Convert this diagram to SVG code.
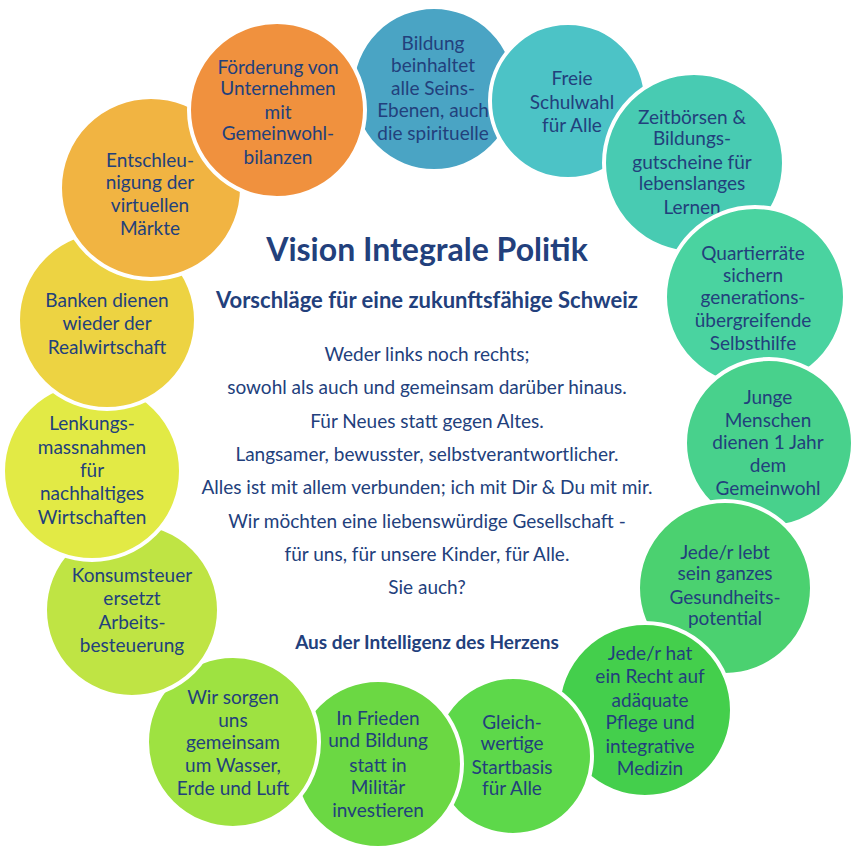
<svg xmlns="http://www.w3.org/2000/svg" width="862" height="854" viewBox="0 0 862 854">
<style>
.c{stroke:#fff;stroke-width:4}
.t{font-family:Lato,"Liberation Sans",sans-serif;font-size:19px;fill:#22407c;text-anchor:middle}
.m{font-family:Lato,"Liberation Sans",sans-serif;fill:#22407c;text-anchor:middle}
</style>
<rect width="862" height="854" fill="#fff"/>
<g id="n1"><circle class="c" cx="434" cy="89" r="82" fill="#4AA4C4"/><text class="t"><tspan x="433" y="50">Bildung</tspan><tspan x="433" y="72">beinhaltet</tspan><tspan x="433" y="95">alle Seins-</tspan><tspan x="433" y="117">Ebenen, auch</tspan><tspan x="433" y="140">die spirituelle</tspan></text></g>
<g id="n2"><circle class="c" cx="568" cy="101" r="78" fill="#4CC3C6"/><text class="t"><tspan x="572" y="85">Freie</tspan><tspan x="572" y="109">Schulwahl</tspan><tspan x="572" y="132">für Alle</tspan></text></g>
<g id="n3"><circle class="c" cx="694" cy="163" r="90" fill="#48CBB2"/><text class="t"><tspan x="692" y="124">Zeitbörsen &amp;</tspan><tspan x="692" y="145">Bildungs-</tspan><tspan x="692" y="169">gutscheine für</tspan><tspan x="692" y="190">lebenslanges</tspan><tspan x="692" y="214">Lernen</tspan></text></g>
<g id="n4"><circle class="c" cx="755" cy="297" r="90" fill="#4AD3A0"/><text class="t"><tspan x="753" y="260">Quartierräte</tspan><tspan x="753" y="282">sichern</tspan><tspan x="753" y="304">generations-</tspan><tspan x="753" y="327">übergreifende</tspan><tspan x="753" y="350">Selbsthilfe</tspan></text></g>
<g id="n5"><circle class="c" cx="769" cy="443" r="84" fill="#48D18C"/><text class="t"><tspan x="768" y="404">Junge</tspan><tspan x="768" y="427">Menschen</tspan><tspan x="768" y="449">dienen 1 Jahr</tspan><tspan x="768" y="472">dem</tspan><tspan x="768" y="495">Gemeinwohl</tspan></text></g>
<g id="n6"><circle class="c" cx="725" cy="588" r="87" fill="#4BD170"/><text class="t"><tspan x="725" y="559">Jede/r lebt</tspan><tspan x="725" y="580">sein ganzes</tspan><tspan x="725" y="604">Gesundheits-</tspan><tspan x="725" y="625">potential</tspan></text></g>
<g id="n7"><circle class="c" cx="645" cy="710" r="87" fill="#44CF4C"/><text class="t"><tspan x="650" y="660">Jede/r hat</tspan><tspan x="650" y="683">ein Recht auf</tspan><tspan x="650" y="707">adäquate</tspan><tspan x="650" y="729">Pflege und</tspan><tspan x="650" y="753">integrative</tspan><tspan x="650" y="775">Medizin</tspan></text></g>
<g id="n8"><circle class="c" cx="513" cy="756" r="79" fill="#5DD84A"/><text class="t"><tspan x="512" y="729">Gleich-</tspan><tspan x="512" y="750">wertige</tspan><tspan x="512" y="774">Startbasis</tspan><tspan x="512" y="795">für Alle</tspan></text></g>
<g id="n9"><circle class="c" cx="378" cy="764" r="84" fill="#6BD843"/><text class="t"><tspan x="378" y="725">In Frieden</tspan><tspan x="378" y="747">und Bildung</tspan><tspan x="378" y="772">statt in</tspan><tspan x="378" y="794">Militär</tspan><tspan x="378" y="817">investieren</tspan></text></g>
<g id="n10"><circle class="c" cx="233" cy="742" r="86" fill="#9EE241"/><text class="t"><tspan x="233" y="704">Wir sorgen</tspan><tspan x="233" y="727">uns</tspan><tspan x="233" y="749">gemeinsam</tspan><tspan x="233" y="772">um Wasser,</tspan><tspan x="233" y="795">Erde und Luft</tspan></text></g>
<g id="n11"><circle class="c" cx="132" cy="610" r="87" fill="#BFE444"/><text class="t"><tspan x="132" y="582">Konsumsteuer</tspan><tspan x="132" y="605">ersetzt</tspan><tspan x="132" y="629">Arbeits-</tspan><tspan x="132" y="652">besteuerung</tspan></text></g>
<g id="n12"><circle class="c" cx="92" cy="471" r="89" fill="#E2EA45"/><text class="t"><tspan x="92" y="430">Lenkungs-</tspan><tspan x="92" y="454">massnahmen</tspan><tspan x="92" y="477">für</tspan><tspan x="92" y="500">nachhaltiges</tspan><tspan x="92" y="524">Wirtschaften</tspan></text></g>
<g id="n13"><circle class="c" cx="107" cy="320" r="89" fill="#EDD342"/><text class="t"><tspan x="107" y="307">Banken dienen</tspan><tspan x="107" y="330">wieder der</tspan><tspan x="107" y="354">Realwirtschaft</tspan></text></g>
<g id="n14"><circle class="c" cx="151" cy="188" r="91" fill="#F1B442"/><text class="t"><tspan x="150" y="167">Entschleu-</tspan><tspan x="150" y="189">nigung der</tspan><tspan x="150" y="212">virtuellen</tspan><tspan x="150" y="235">Märkte</tspan></text></g>
<g id="n15"><circle class="c" cx="277" cy="110" r="88" fill="#F0913E"/><text class="t"><tspan x="278" y="74">Förderung von</tspan><tspan x="278" y="95">Unternehmen</tspan><tspan x="278" y="119">mit</tspan><tspan x="278" y="140">Gemeinwohl-</tspan><tspan x="278" y="164">bilanzen</tspan></text></g>
<g id="center">
<text class="m" x="427" y="261" font-size="32" font-weight="bold" fill="#1f4680">Vision Integrale Politik</text>
<text class="m" x="427" y="308" font-size="22" font-weight="bold">Vorschläge für eine zukunftsfähige Schweiz</text>
<text class="m" font-size="19"><tspan x="427" y="361">Weder links noch rechts;</tspan><tspan x="427" y="394">sowohl als auch und gemeinsam darüber hinaus.</tspan><tspan x="427" y="428">Für Neues  statt gegen Altes.</tspan><tspan x="427" y="461">Langsamer, bewusster, selbstverantwortlicher.</tspan><tspan x="427" y="494">Alles ist mit allem verbunden; ich mit Dir &amp; Du mit mir.</tspan><tspan x="427" y="528">Wir möchten eine liebenswürdige Gesellschaft -</tspan><tspan x="427" y="561">für uns, für unsere Kinder, für Alle.</tspan><tspan x="427" y="594">Sie auch?</tspan></text>
<text class="m" x="427" y="649" font-size="19" font-weight="bold">Aus der Intelligenz des Herzens</text>
</g>
<g id="connectors"/>
</svg>
